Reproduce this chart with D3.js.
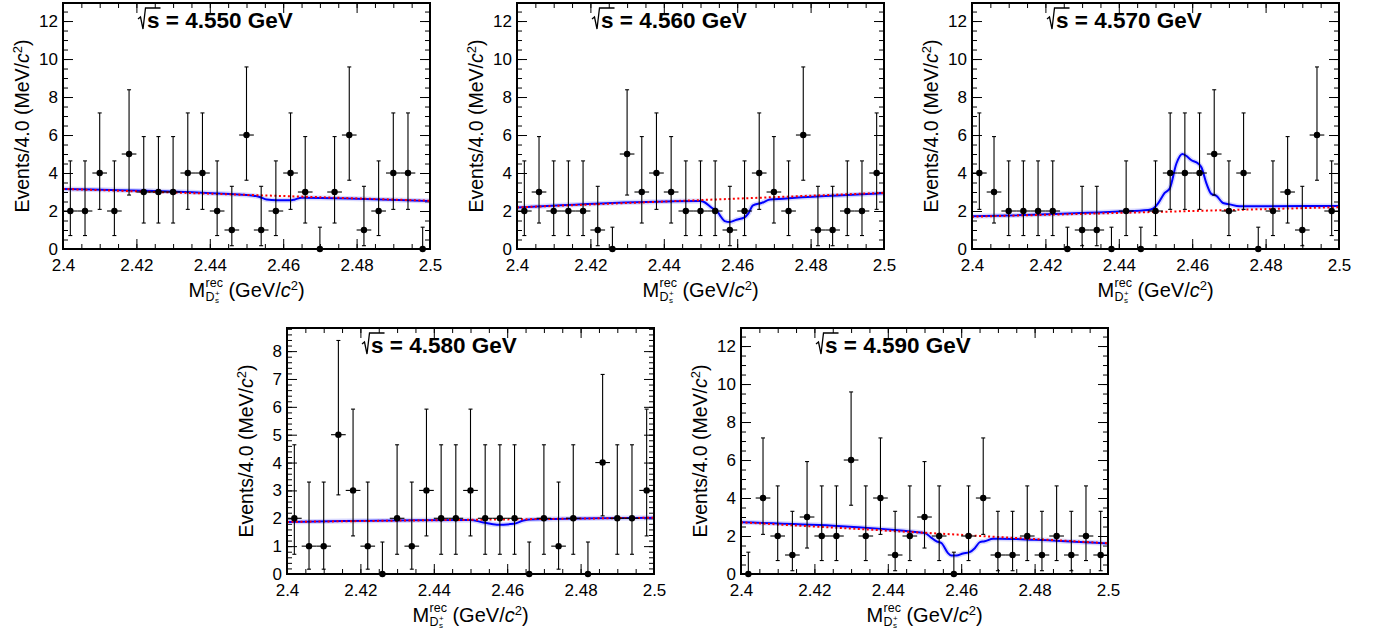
<!DOCTYPE html>
<html lang="en">
<head>
<meta charset="utf-8">
<title>Ds recoil mass fits</title>
<script src="https://d3js.org/d3.v7.min.js"></script>
<style>
    body { margin: 0; background: #fff; }
    svg text { font-family: "Liberation Sans", Arial, Helvetica, sans-serif; fill: #000; }
    .axis path { display: none; }
    .axis line { stroke: #000; stroke-width: 1; }
    .axis text { font-size: 17px; }
    .frame { fill: none; stroke: #000; stroke-width: 2; }
    .err { stroke: #000; stroke-width: 1.1; }
    .marker { fill: #000; }
</style>
</head>
<body>
<svg id="chart" width="1377" height="635"></svg>
<script>
    // bin centres of the 4 MeV bins
    const binCenters = [2.402, 2.406, 2.410, 2.414, 2.418, 2.422, 2.426, 2.430, 2.434, 2.438,
        2.442, 2.446, 2.450, 2.454, 2.458, 2.462, 2.466, 2.470, 2.474, 2.478,
        2.482, 2.486, 2.490, 2.494, 2.498];

    const energies = ["4.550", "4.560", "4.570", "4.580", "4.590"];

    // events per bin
    const counts4550 = [2, 2, 4, 2, 5, 3, 3, 3, 4, 4, 2, 1, 6, 1, 2, 4, 3, 0, 3, 6, 1, 2, 4, 4, 0];
    const counts4560 = [2, 3, 2, 2, 2, 1, 0, 5, 3, 4, 3, 2, 2, 2, 1, 2, 4, 3, 2, 6, 1, 1, 2, 2, 4];
    const counts4570 = [4, 3, 2, 2, 2, 2, 0, 1, 1, 0, 2, 0, 2, 4, 4, 4, 5, 2, 4, 0, 2, 3, 1, 6, 2];
    const counts4580 = [2, 1, 1, 5, 3, 1, 0, 2, 1, 3, 2, 2, 3, 2, 2, 2, 0, 2, 1, 2, 0, 4, 2, 2, 3];
    const counts4590 = [0, 4, 2, 1, 3, 2, 2, 6, 2, 4, 1, 2, 3, 2, 0, 2, 4, 1, 1, 2, 1, 2, 1, 2, 1];

    // Poisson 68% interval bounds, indexed by count
    const poissonLow = [0, 0.173, 0.708, 1.367, 2.086, 2.840, 3.620];
    const poissonHigh = [1.148, 3.300, 4.638, 5.918, 7.163, 8.382, 9.584];

    // background (red dotted) and total fit (blue), [mass, events]
    const bkg4550 = [[2.40, 3.16], [2.50, 2.54]];
    const fit4550 = [[2.400, 3.16], [2.4500, 2.84], [2.4536, 2.74], [2.4555, 2.60], [2.4582, 2.56],
        [2.4618, 2.56], [2.4632, 2.61], [2.4650, 2.70], [2.480, 2.65], [2.500, 2.53]];
    const bkg4560 = [[2.40, 2.19], [2.50, 2.96]];
    const fit4560 = [[2.400, 2.19], [2.4500, 2.53], [2.4507, 2.50], [2.4534, 2.12], [2.4544, 2.03],
        [2.4553, 1.77], [2.4566, 1.47], [2.4580, 1.42], [2.4598, 1.54], [2.4621, 1.68], [2.4630, 1.86],
        [2.4643, 2.30], [2.4666, 2.42], [2.4689, 2.60], [2.4725, 2.65], [2.500, 2.93]];
    const bkg4570 = [[2.40, 1.70], [2.50, 2.20]];
    const fit4570 = [[2.400, 1.72], [2.4400, 1.97], [2.4480, 2.05], [2.4493, 2.12], [2.4507, 2.40],
        [2.4525, 2.95], [2.4539, 3.20], [2.4557, 4.50], [2.4573, 5.00], [2.4584, 4.90], [2.4598, 4.67],
        [2.4616, 4.50], [2.4625, 4.30], [2.4639, 3.44], [2.4652, 2.90], [2.4666, 2.80], [2.4684, 2.42],
        [2.4702, 2.35], [2.4729, 2.25], [2.500, 2.27]];
    const bkg4580 = [[2.40, 1.87], [2.50, 2.02]];
    const fit4580 = [[2.400, 1.87], [2.4499, 1.94], [2.4535, 1.85], [2.4572, 1.77], [2.4617, 1.80],
        [2.4644, 1.92], [2.4662, 1.96], [2.500, 2.02]];
    const bkg4590 = [[2.40, 2.72], [2.50, 1.62]];
    const fit4590 = [[2.400, 2.72], [2.4501, 2.16], [2.4519, 1.90], [2.4533, 1.72], [2.4546, 1.63],
        [2.4564, 1.10], [2.4573, 0.97], [2.4587, 0.97], [2.4605, 1.08], [2.4623, 1.15], [2.4637, 1.36],
        [2.4651, 1.68], [2.4664, 1.72], [2.4687, 1.86], [2.4705, 1.86], [2.480, 1.80], [2.500, 1.60]];

    const yMax = [12.95, 12.95, 12.95, 8.83, 12.95];
    const xTicks = [2.4, 2.42, 2.44, 2.46, 2.48, 2.5];
    const yTicksTall = [0, 2, 4, 6, 8, 10, 12];
    const yTicksShort = [0, 1, 2, 3, 4, 5, 6, 7, 8];

    const panels = [
        {counts: counts4550, bkg: bkg4550, fit: fit4550, yTicks: yTicksTall, minor: 0.5, x: 63, y: 3},
        {counts: counts4560, bkg: bkg4560, fit: fit4560, yTicks: yTicksTall, minor: 0.5, x: 517, y: 3},
        {counts: counts4570, bkg: bkg4570, fit: fit4570, yTicks: yTicksTall, minor: 0.5, x: 972, y: 3},
        {counts: counts4580, bkg: bkg4580, fit: fit4580, yTicks: yTicksShort, minor: 0.2, x: 287, y: 328},
        {counts: counts4590, bkg: bkg4590, fit: fit4590, yTicks: yTicksTall, minor: 0.5, x: 741, y: 328}
    ];
    const W = 367, H = 246;

    const svg = d3.select("#chart");

    panels.forEach(function (p, i) {
        const g = svg.append("g").attr("transform", "translate(" + p.x + "," + p.y + ")");
        const x = d3.scaleLinear().domain([2.4, 2.5]).range([0, W]);
        const y = d3.scaleLinear().domain([0, yMax[i]]).range([H, 0]);
        const xMinor = d3.range(2.4, 2.5001, 0.005);
        const yMinor = d3.range(0, yMax[i], p.minor);

        // axes, ticks pointing inwards on all four sides
        g.append("g").attr("class", "axis").attr("transform", "translate(0," + H + ")")
            .call(d3.axisBottom(x).tickValues(xTicks).tickSize(-10).tickPadding(10).tickFormat(d => String(d)));
        g.append("g").attr("class", "axis").attr("transform", "translate(0," + H + ")")
            .call(d3.axisBottom(x).tickValues(xMinor).tickSize(-5).tickFormat(""));
        g.append("g").attr("class", "axis")
            .call(d3.axisTop(x).tickValues(xTicks).tickSize(-10).tickFormat(""));
        g.append("g").attr("class", "axis")
            .call(d3.axisTop(x).tickValues(xMinor).tickSize(-5).tickFormat(""));
        g.append("g").attr("class", "axis")
            .call(d3.axisLeft(y).tickValues(p.yTicks).tickSize(-10).tickPadding(5).tickFormat(d => String(d)));
        g.append("g").attr("class", "axis")
            .call(d3.axisLeft(y).tickValues(yMinor).tickSize(-5).tickFormat(""));
        g.append("g").attr("class", "axis").attr("transform", "translate(" + W + ",0)")
            .call(d3.axisRight(y).tickValues(p.yTicks).tickSize(-10).tickFormat(""));
        g.append("g").attr("class", "axis").attr("transform", "translate(" + W + ",0)")
            .call(d3.axisRight(y).tickValues(yMinor).tickSize(-5).tickFormat(""));

        // fit curves
        const line = d3.line().x(d => x(d[0])).y(d => y(d[1])).curve(d3.curveMonotoneX);
        g.append("path").attr("d", line(p.fit)).attr("fill", "none")
            .attr("stroke", "#8f8fff").attr("stroke-opacity", 0.35).attr("stroke-width", 5);
        g.append("path").attr("d", line(p.fit)).attr("fill", "none")
            .attr("stroke", "#0000ff").attr("stroke-width", 2);
        g.append("path").attr("d", line(p.bkg)).attr("fill", "none")
            .attr("stroke", "#ff0000").attr("stroke-width", 2).attr("stroke-dasharray", "2,2.5");

        // data points with Poisson errors
        const pts = g.selectAll("g.pt").data(p.counts.map((n, k) => ({m: binCenters[k], n: n})))
            .enter().append("g").attr("class", "pt");
        pts.append("line").attr("class", "err")
            .attr("x1", d => x(d.m)).attr("x2", d => x(d.m))
            .attr("y1", d => y(poissonLow[d.n])).attr("y2", d => y(poissonHigh[d.n]));
        pts.append("line").attr("class", "err")
            .attr("x1", d => x(d.m) - 2).attr("x2", d => x(d.m) + 2)
            .attr("y1", d => y(poissonHigh[d.n])).attr("y2", d => y(poissonHigh[d.n]));
        pts.append("line").attr("class", "err")
            .attr("x1", d => x(d.m) - 2).attr("x2", d => x(d.m) + 2)
            .attr("y1", d => y(poissonLow[d.n])).attr("y2", d => y(poissonLow[d.n]));
        pts.filter(d => d.n > 0).append("line").attr("class", "err")
            .attr("x1", d => x(d.m - 0.002)).attr("x2", d => x(d.m + 0.002))
            .attr("y1", d => y(d.n)).attr("y2", d => y(d.n));
        pts.append("circle").attr("class", "marker")
            .attr("cx", d => x(d.m)).attr("cy", d => y(d.n)).attr("r", 3.2);

        g.append("rect").attr("class", "frame").attr("width", W).attr("height", H);

        // energy label with a radical sign
        const tx = 75, tb = 25;
        const title = g.append("text").attr("x", tx + 9).attr("y", tb)
            .style("font-size", "22.5px").style("font-weight", "bold");
        const sPart = title.append("tspan").text("s");
        title.append("tspan").text(" = " + energies[i] + " GeV");
        const sw = sPart.node().getComputedTextLength();
        g.append("path")
            .attr("d", "M" + tx + "," + (tb - 9) + "L" + (tx + 2.5) + "," + (tb - 11) +
                "L" + (tx + 5) + "," + (tb + 1) + "L" + (tx + 7.5) + "," + (tb - 20) +
                "L" + (tx + 9 + sw + 1) + "," + (tb - 20))
            .attr("fill", "none").attr("stroke", "#000").attr("stroke-width", 1.3);

        // x title: M^rec_{D_s^+} (GeV/c^2)
        const xt = g.append("g");
        const base = H + 48;
        const mText = xt.append("text").attr("y", base).style("font-size", "20px").text("M");
        const mw = mText.node().getComputedTextLength();
        const rec = xt.append("text").attr("x", mw + 0.5).attr("y", base - 10).style("font-size", "12.5px").text("rec");
        const dText = xt.append("text").attr("x", mw + 0.5).attr("y", base + 4).style("font-size", "12.5px").text("D");
        const dw = dText.node().getComputedTextLength();
        xt.append("text").attr("x", mw + dw + 1).attr("y", base + 6).style("font-size", "8px").text("s");
        xt.append("text").attr("x", mw + dw + 1).attr("y", base - 1).style("font-size", "8px").text("+");
        const rw = rec.node().getComputedTextLength();
        const rest = xt.append("text").attr("x", mw + Math.max(rw, dw + 6) + 6).attr("y", base)
            .style("font-size", "20px");
        rest.append("tspan").text("(GeV/");
        rest.append("tspan").style("font-style", "italic").text("c");
        rest.append("tspan").attr("dy", -7).style("font-size", "13px").text("2");
        rest.append("tspan").attr("dy", 7).text(")");
        const bb = xt.node().getBBox();
        xt.attr("transform", "translate(" + (W / 2 - bb.width / 2 - bb.x) + ",0)");

        // y title
        const yt = g.append("text").attr("transform", "translate(-34," + (H / 2) + ") rotate(-90)")
            .attr("text-anchor", "middle").style("font-size", "19.5px");
        yt.append("tspan").text("Events/4.0 (MeV/");
        yt.append("tspan").style("font-style", "italic").text("c");
        yt.append("tspan").attr("dy", -7).style("font-size", "13px").text("2");
        yt.append("tspan").attr("dy", 7).text(")");
    });
</script>
</body>
</html>
